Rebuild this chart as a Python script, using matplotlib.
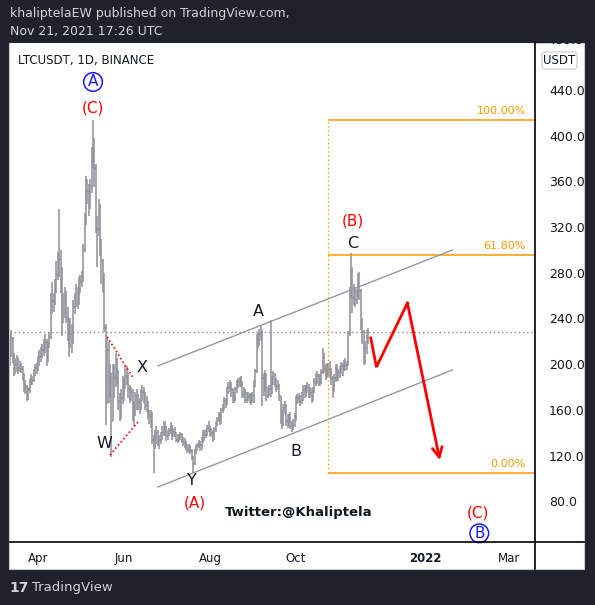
import numpy as np
import pandas as pd
import matplotlib
matplotlib.use("Agg")
import matplotlib.pyplot as plt
import matplotlib.dates as mdates
from matplotlib.patches import Rectangle, FancyBboxPatch

# LTCUSDT daily, 2021-03-12 .. 2021-11-21
start_date = "2021-03-12"

closes_mar = [215, 222, 205, 196, 199, 203, 197, 199, 196, 189, 181, 180, 173, 178, 185, 188, 186, 193, 197, 196]
highs_mar = [226, 230, 224, 210, 205, 208, 206, 203, 201, 198, 192, 186, 182, 180, 187, 191, 190, 196, 200, 201]
lows_mar = [198, 206, 201, 190, 191, 193, 191, 193, 192, 185, 176, 174, 168, 169, 175, 182, 182, 184, 190, 191]

closes_apr = [203, 207, 210, 212, 214, 219, 205, 216, 224, 250, 255, 254, 266, 278, 284, 292, 276, 252, 246, 258,
              240, 232, 230, 226, 222, 250, 256, 262, 257, 272]
highs_apr = [207, 212, 215, 218, 222, 226, 222, 220, 228, 262, 272, 262, 275, 290, 298, 336, 300, 285, 262, 268,
             264, 250, 240, 240, 235, 256, 262, 270, 268, 276]
lows_apr = [194, 198, 202, 205, 207, 210, 198, 202, 214, 222, 244, 246, 252, 262, 274, 276, 262, 225, 236, 240,
            236, 220, 206, 214, 210, 218, 244, 250, 248, 252]

closes_may = [272, 276, 300, 325, 358, 352, 345, 356, 382, 388, 372, 320, 318, 335, 300, 290, 275, 232, 200, 212,
              180, 186, 150, 190, 188, 195, 188, 168, 160, 170, 182]
highs_may = [278, 282, 305, 332, 365, 362, 358, 362, 390, 414, 398, 375, 330, 345, 340, 310, 292, 280, 235, 224,
             219, 200, 192, 200, 200, 210, 205, 195, 175, 178, 190]
lows_may = [262, 268, 272, 298, 322, 340, 330, 336, 350, 372, 355, 315, 285, 312, 295, 270, 262, 228, 147, 165,
            166, 170, 119, 150, 170, 180, 182, 160, 150, 152, 165]

closes_jun = [182, 190, 188, 178, 172, 176, 158, 162, 172, 166, 167, 162, 174, 176, 173, 164, 166, 158, 155, 156,
              134, 128, 136, 140, 132, 134, 138, 140, 146, 144]
highs_jun = [188, 198, 198, 192, 182, 180, 178, 168, 176, 178, 174, 170, 178, 182, 180, 176, 172, 168, 160, 160,
             158, 138, 142, 146, 142, 138, 141, 146, 150, 150]
lows_jun = [168, 178, 182, 170, 166, 168, 150, 146, 155, 160, 160, 156, 160, 168, 166, 160, 158, 152, 148, 144,
            130, 105, 126, 130, 128, 126, 130, 134, 137, 138]

closes_jul = [137, 139, 142, 146, 138, 141, 140, 134, 137, 136, 138, 134, 132, 131, 128, 125, 126, 124, 119, 113,
              124, 126, 129, 131, 129, 134, 140, 138, 141, 144, 146]
highs_jul = [146, 142, 144, 149, 147, 144, 145, 141, 139, 139, 141, 140, 136, 135, 133, 130, 130, 129, 126, 120,
             126, 129, 131, 134, 133, 136, 142, 142, 143, 147, 150]
lows_jul = [133, 134, 137, 139, 134, 136, 136, 132, 131, 133, 134, 131, 128, 127, 125, 122, 122, 121, 116, 105,
            112, 121, 124, 127, 124, 125, 131, 133, 135, 137, 141]

closes_aug = [142, 140, 137, 143, 148, 152, 155, 150, 160, 162, 168, 166, 178, 180, 182, 177, 172, 171, 178, 182,
              184, 186, 183, 174, 176, 169, 174, 172, 170, 168, 173]
highs_aug = [146, 144, 142, 145, 150, 154, 158, 157, 162, 165, 171, 170, 180, 184, 186, 184, 179, 176, 180, 186,
             188, 189, 190, 185, 180, 178, 176, 176, 175, 174, 176]
lows_aug = [137, 136, 132, 134, 141, 146, 149, 147, 148, 157, 160, 162, 164, 174, 176, 171, 166, 166, 168, 175,
            179, 180, 180, 170, 170, 166, 166, 168, 166, 164, 166]

closes_sep = [184, 194, 222, 222, 226, 227, 188, 180, 190, 172, 176, 178, 180, 186, 190, 185, 180, 181, 172, 155,
              148, 162, 163, 150, 153, 152, 146, 144, 147, 154]
highs_sep = [186, 196, 226, 228, 231, 233, 230, 192, 195, 192, 180, 182, 239, 190, 194, 192, 188, 186, 183, 172,
             160, 165, 168, 165, 156, 156, 158, 150, 152, 157]
lows_sep = [166, 180, 192, 214, 216, 220, 163, 172, 176, 168, 170, 172, 171, 174, 182, 180, 176, 177, 168, 148,
            143, 146, 156, 146, 144, 146, 143, 141, 142, 145]

closes_oct = [168, 170, 171, 168, 172, 177, 175, 178, 180, 174, 175, 173, 177, 184, 188, 190, 186, 187, 193, 206,
              196, 192, 198, 196, 193, 187, 180, 188, 196, 190, 192]
highs_oct = [172, 174, 175, 173, 176, 182, 182, 182, 184, 183, 180, 179, 180, 188, 192, 194, 191, 191, 196, 214,
             210, 200, 201, 201, 203, 197, 190, 191, 200, 200, 196]
lows_oct = [150, 165, 166, 163, 165, 168, 170, 171, 175, 170, 170, 166, 168, 175, 181, 183, 181, 181, 183, 191,
            192, 186, 188, 190, 188, 182, 170, 176, 184, 185, 185]

closes_nov = [195, 198, 196, 201, 199, 199, 227, 264, 272, 258, 262, 256, 262, 268, 264, 236, 228, 203, 214, 224, 228]
highs_nov = [198, 202, 201, 204, 205, 203, 229, 268, 297, 285, 270, 268, 266, 280, 281, 266, 240, 230, 220, 230, 232]
lows_nov = [188, 191, 190, 194, 194, 195, 198, 225, 258, 245, 252, 250, 253, 258, 256, 230, 218, 199, 200, 209, 218]

closes = np.array(closes_mar + closes_apr + closes_may + closes_jun + closes_jul
                  + closes_aug + closes_sep + closes_oct + closes_nov, dtype=float)
highs = np.array(highs_mar + highs_apr + highs_may + highs_jun + highs_jul
                 + highs_aug + highs_sep + highs_oct + highs_nov, dtype=float)
lows = np.array(lows_mar + lows_apr + lows_may + lows_jun + lows_jul
                + lows_aug + lows_sep + lows_oct + lows_nov, dtype=float)
opens = np.concatenate([[210.0], closes[:-1]])
highs = np.maximum(highs, np.maximum(opens, closes))
lows = np.minimum(lows, np.minimum(opens, closes))

dates = mdates.date2num(pd.date_range(start_date, periods=len(closes), freq="D"))

# Drawings
fib_top, fib_bottom = 414.0, 105.0
fib_levels = [1.0, 0.618, 0.0]
fib_labels = ["100.00%", "61.80%", "0.00%"]
fib_start = "2021-10-24"

channel_x = ["2021-06-25", "2022-01-20"]
channel_upper = [198.5, 300.0]
channel_lower = [92.5, 195.0]

path_x = ["2021-11-23", "2021-11-27", "2021-12-19", "2022-01-11"]
path_y = [223.0, 197.5, 253.5, 116.0]

wx_upper_x, wx_upper_y = ["2021-05-20", "2021-06-07"], [224.0, 189.0]
wx_lower_x, wx_lower_y = ["2021-05-22", "2021-06-12"], [120.5, 151.0]

black_labels = [("W", "2021-05-18", 131), ("X", "2021-06-14", 197.5), ("Y", "2021-07-19", 98.5),
                ("A", "2021-09-04", 246.5), ("B", "2021-10-01", 123.5), ("C", "2021-11-10", 306)]
red_labels = [("(C)", "2021-05-10", 424), ("(A)", "2021-07-21", 78.5), ("(B)", "2021-11-10", 325.5),
              ("(C)", "2022-02-07", 70)]
blue_labels = [("A", "2021-05-10", 447), ("B", "2022-02-08", 52)]

yticks = [80, 120, 160, 200, 240, 280, 320, 360, 400, 440]
xtick_dates = ["2021-04-01", "2021-06-01", "2021-08-01", "2021-10-01", "2022-01-01", "2022-03-01"]
xtick_labels = ["Apr", "Jun", "Aug", "Oct", "2022", "Mar"]

D = lambda s: mdates.date2num(pd.Timestamp(s))

W, H = 595, 605
dark = "#1f222d"
bar_col = "#8e9099"
fig = plt.figure(figsize=(W / 100, H / 100), dpi=100, facecolor=dark)

# white panel (behind the axes)
fig.patches.append(Rectangle((9 / W, 1 - 569 / H), 575 / W, 526 / H, transform=fig.transFigure,
                             facecolor="white", edgecolor="#c8c9cc", lw=0.8, zorder=-5))

ax = fig.add_axes([10 / W, 1 - 542 / H, 525 / W, 499 / H])
ax.set_zorder(1)
ax.set_facecolor("white")
for s in ax.spines.values():
    s.set_visible(False)

# OHLC bars
ax.vlines(dates, lows, highs, color=bar_col, lw=1.1, zorder=2)
ax.hlines(opens, dates - 0.5, dates, color=bar_col, lw=1.1, zorder=2)
ax.hlines(closes, dates, dates + 0.5, color=bar_col, lw=1.1, zorder=2)

ax.set_xlim(D("2021-03-12") + 0.1, D("2022-03-19") + 0.5)
ax.set_ylim(44.4, 481.1)

# last price line
ax.axhline(closes[-1], color="#8e9099", lw=1, ls=(0, (1, 2)), zorder=1)

# fib retracement
fx0, fx1 = D(fib_start), ax.get_xlim()[1]
ax.vlines(fx0, fib_bottom, fib_top, color="#ff9800", lw=1, ls=(0, (1, 2)), zorder=3)
for lv, lb in zip(fib_levels, fib_labels):
    p = fib_bottom + lv * (fib_top - fib_bottom)
    ax.hlines(p, fx0, fx1, color="#ff9800", lw=1.1, zorder=3)
    ax.text(D("2022-03-13"), p + 3, lb, color="#ff9800", fontsize=8, ha="right", va="bottom")

# channel
cx = [D(d) for d in channel_x]
ax.plot(cx, channel_upper, color="#9598a1", lw=1, zorder=3)
ax.plot(cx, channel_lower, color="#9598a1", lw=1, zorder=3)

# W-X triangle dotted lines
ax.plot([D(d) for d in wx_upper_x], wx_upper_y, color="red", lw=1.2, ls=(0, (1, 1.5)), zorder=4)
ax.plot([D(d) for d in wx_lower_x], wx_lower_y, color="red", lw=1.2, ls=(0, (1, 1.5)), zorder=4)

# projected path
px = [D(d) for d in path_x]
ax.plot(px[:-1], path_y[:-1], color="red", lw=2, solid_joinstyle="miter", zorder=5)
ax.annotate("", xy=(px[-1], path_y[-1]), xytext=(px[-2], path_y[-2]),
            arrowprops=dict(arrowstyle="->,head_length=0.7,head_width=0.35", color="red", lw=2,
                            shrinkA=0, shrinkB=0), zorder=5)

# wave labels
for t, d, p in black_labels:
    ax.text(D(d), p, t, color="#131722", fontsize=11.5, ha="center", va="center", zorder=6)
for t, d, p in red_labels:
    ax.text(D(d), p, t, color="#ff0000", fontsize=11, ha="center", va="center", zorder=6)
for t, d, p in blue_labels:
    ax.text(D(d), p, t, color="#1a1aff", fontsize=11, ha="center", va="center", zorder=6,
            bbox=dict(boxstyle="circle,pad=0.12", fc="none", ec="#1a1aff", lw=1.1))

ax.text(D("2021-10-03"), 70.5, "Twitter:@Khaliptela", color="#131722", fontsize=9.5,
        fontweight="bold", ha="center", va="center", zorder=6)
ax.text(0.016, 0.965, "LTCUSDT, 1D, BINANCE", transform=ax.transAxes, color="#131722",
        fontsize=8.5, ha="left", va="center")

# price axis
ax.yaxis.tick_right()
ax.set_yticks(yticks)
ax.set_yticklabels([f"{v:.1f}" for v in yticks])
ax.tick_params(axis="y", length=0, pad=10, labelsize=9, labelcolor="#131722")
fig.text(547 / W, 1 - 41 / H, "480.0", fontsize=9, color="#131722", ha="left", va="center", zorder=2)
# dark header band covers the upper half of the 480 label, as in the screenshot
fig.patches.append(Rectangle((0, 1 - 42.6 / H), 1, 42.6 / H, transform=fig.transFigure,
                             facecolor=dark, edgecolor="none", zorder=3))
fig.patches.append(FancyBboxPatch((542 / W, 1 - 69 / H), 35 / W, 17 / H, transform=fig.transFigure,
                                  boxstyle="round,pad=0,rounding_size=0.005", fc="white",
                                  ec="#c8c9cc", lw=0.8, zorder=3))
fig.text(559.5 / W, 1 - 60 / H, "USDT", fontsize=8.5, color="#131722", ha="center", va="center", zorder=4)

# time axis
ax.set_xticks([D(d) for d in xtick_dates])
ax.set_xticklabels(xtick_labels)
ax.tick_params(axis="x", length=0, pad=7, labelsize=8.5, labelcolor="#131722")
for lab in ax.get_xticklabels():
    if lab.get_text() == "2022":
        lab.set_fontweight("bold")

# scale separators
fig.add_artist(plt.Line2D([535 / W, 535 / W], [1 - 43 / H, 1 - 569 / H], color="black", lw=1.2, zorder=5))
fig.add_artist(plt.Line2D([10 / W, 584 / W], [1 - 542 / H, 1 - 542 / H], color="black", lw=1.2, zorder=5))

# header / footer
hdr = "#d1d4dc"
fig.text(10 / W, 1 - 13 / H, "khaliptelaEW published on TradingView.com,", color=hdr, fontsize=9,
         va="center", zorder=6)
fig.text(10 / W, 1 - 31 / H, "Nov 21, 2021 17:26 UTC", color=hdr, fontsize=9, va="center", zorder=6)
fig.text(9 / W, 1 - 588 / H, "17", color=hdr, fontsize=10, fontweight="heavy", va="center")
fig.text(32 / W, 1 - 588 / H, "TradingView", color=hdr, fontsize=9.5, va="center")

fig.savefig("out.png", dpi=100, facecolor=dark)
